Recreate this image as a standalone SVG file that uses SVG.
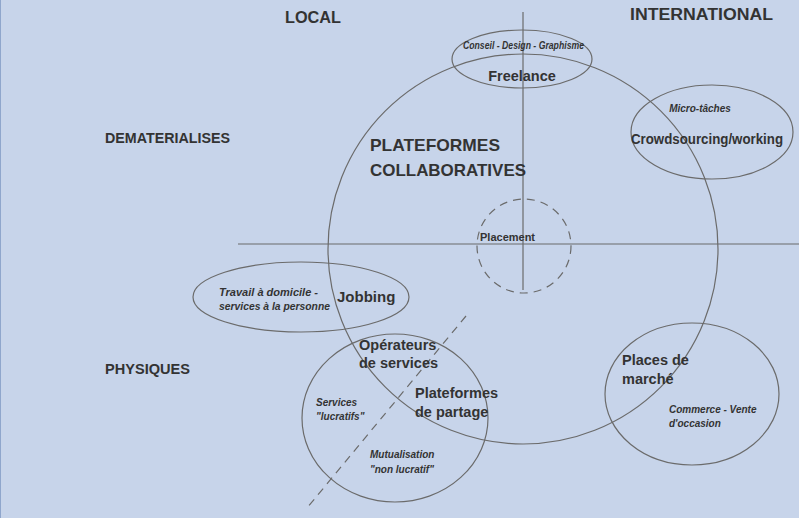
<svg xmlns="http://www.w3.org/2000/svg" width="799" height="518" viewBox="0 0 799 518">
<style>
.ln{fill:none;stroke:#6b6b6b;stroke-width:1.2}
.ds{fill:none;stroke:#6b6b6b;stroke-width:1.2;stroke-dasharray:8 6}
text{font-family:"Liberation Sans",Arial,sans-serif;font-weight:bold;fill:#333}
.h{font-size:16px}
.m{font-size:14.5px}
.s{font-size:10px;font-style:italic}
</style>
<rect width="799" height="518" fill="#c7d4ea"/>
<line x1="0.5" y1="0" x2="0.5" y2="518" stroke="#8fa6cc" stroke-width="1"/>
<g id="axes">
<line class="ln" x1="523" y1="12" x2="523" y2="290"/>
<line class="ln" x1="238" y1="244" x2="799" y2="244"/>
</g>
<g id="labels">
<text class="h" x="285" y="23" textLength="56" lengthAdjust="spacingAndGlyphs">LOCAL</text>
<text class="h" x="630" y="20" textLength="143" lengthAdjust="spacingAndGlyphs">INTERNATIONAL</text>
<text class="m" x="105" y="143" textLength="125" lengthAdjust="spacingAndGlyphs">DEMATERIALISES</text>
<text class="m" x="105" y="374" textLength="85" lengthAdjust="spacingAndGlyphs">PHYSIQUES</text>
</g>
<g id="plateformes-collaboratives">
<circle class="ln" cx="523" cy="249" r="195"/>
<text x="370" y="151" font-size="17" textLength="130" lengthAdjust="spacingAndGlyphs">PLATEFORMES</text>
<text x="370" y="176" font-size="17" textLength="156" lengthAdjust="spacingAndGlyphs">COLLABORATIVES</text>
</g>
<g id="placement">
<circle class="ds" cx="524" cy="246" r="47"/>
<text x="480" y="241" font-size="11">Placement</text>
</g>
<g id="freelance">
<ellipse class="ln" cx="522" cy="59" rx="70" ry="29"/>
<text class="s" x="463" y="49" font-size="8.5" textLength="121" lengthAdjust="spacingAndGlyphs">Conseil - Design - Graphisme</text>
<text class="m" x="522" y="81" text-anchor="middle">Freelance</text>
</g>
<g id="crowdsourcing">
<ellipse class="ln" cx="712" cy="132" rx="81" ry="47"/>
<text class="s" x="700" y="112" text-anchor="middle">Micro-tâches</text>
<text class="m" x="631" y="144" textLength="152" lengthAdjust="spacingAndGlyphs">Crowdsourcing/working</text>
</g>
<g id="jobbing">
<ellipse class="ln" cx="301" cy="297" rx="108" ry="35"/>
<text class="s" x="219" y="296" textLength="99" lengthAdjust="spacingAndGlyphs">Travail à domicile -</text>
<text class="s" x="219" y="310" textLength="111" lengthAdjust="spacingAndGlyphs">services à la personne</text>
<text x="337" y="302" font-size="15">Jobbing</text>
</g>
<g id="partage">
<ellipse class="ln" cx="395" cy="418" rx="93" ry="84"/>
<line class="ds" x1="466" y1="316" x2="307" y2="508"/>
<text class="m" x="359" y="350">Opérateurs</text>
<text class="m" x="359" y="368">de services</text>
<text class="m" x="415" y="398">Plateformes</text>
<text class="m" x="415" y="417">de partage</text>
<text class="s" x="316" y="406">Services</text>
<text class="s" x="316" y="420">"lucratifs"</text>
<text class="s" x="370" y="458">Mutualisation</text>
<text class="s" x="370" y="473">"non lucratif"</text>
</g>
<g id="places-de-marche">
<ellipse class="ln" cx="692" cy="394" rx="87" ry="71"/>
<text class="m" x="622" y="365">Places de</text>
<text class="m" x="622" y="384">marché</text>
<text class="s" x="669" y="413">Commerce - Vente</text>
<text class="s" x="669" y="427">d'occasion</text>
</g>
</svg>
